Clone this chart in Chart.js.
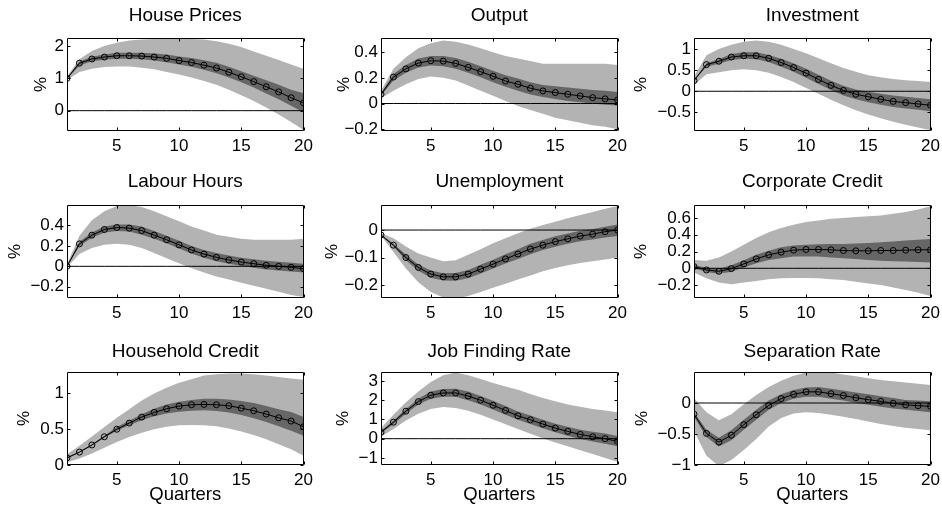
<!DOCTYPE html>
<html><head><meta charset="utf-8">
<script src="https://cdn.jsdelivr.net/npm/chart.js@4.4.1/dist/chart.umd.min.js"></script>
<style>
html,body{margin:0;padding:0;background:#fff;width:942px;height:509px;overflow:hidden;position:relative;}
canvas{position:absolute;}
</style></head><body>
<script>
// ---------- data ----------
const quarters = [1,2,3,4,5,6,7,8,9,10,11,12,13,14,15,16,17,18,19,20];
const xTickValues = [5,10,15,20];
const panelTitles = ["House Prices","Output","Investment","Labour Hours","Unemployment","Corporate Credit","Household Credit","Job Finding Rate","Separation Rate"];
const xAxisLabel = "Quarters";
const yAxisLabel = "%";

const housePricesMedian  = [1.00,1.47,1.60,1.66,1.70,1.70,1.69,1.66,1.62,1.55,1.49,1.41,1.32,1.19,1.05,0.90,0.74,0.58,0.40,0.24];
const housePricesDarkLo  = [0.98,1.40,1.53,1.58,1.61,1.61,1.59,1.55,1.50,1.43,1.36,1.27,1.16,1.03,0.88,0.72,0.53,0.35,0.15,-0.06];
const housePricesDarkHi  = [1.02,1.52,1.67,1.74,1.79,1.79,1.79,1.77,1.74,1.68,1.63,1.56,1.48,1.36,1.22,1.08,0.94,0.80,0.65,0.54];
const housePricesLightLo = [0.95,1.20,1.30,1.35,1.37,1.37,1.33,1.28,1.20,1.12,1.03,0.92,0.80,0.65,0.48,0.30,0.10,-0.12,-0.35,-0.60];
const housePricesLightHi = [1.05,1.60,1.85,2.00,2.10,2.17,2.20,2.22,2.23,2.23,2.22,2.20,2.15,2.07,1.97,1.83,1.70,1.57,1.43,1.30];
const housePricesYTicks  = [0,1,2];
const housePricesYRange  = [-0.63,2.25];

const outputMedian  = [0.072,0.206,0.27,0.315,0.333,0.33,0.312,0.281,0.248,0.212,0.175,0.15,0.119,0.098,0.085,0.072,0.059,0.046,0.036,0.028];
const outputDarkLo  = [0.06,0.18,0.24,0.28,0.295,0.29,0.27,0.24,0.205,0.165,0.13,0.10,0.07,0.05,0.035,0.02,0.01,0.0,-0.01,-0.015];
const outputDarkHi  = [0.08,0.23,0.30,0.35,0.37,0.37,0.355,0.325,0.29,0.255,0.22,0.195,0.165,0.145,0.135,0.125,0.115,0.105,0.10,0.09];
const outputLightLo = [0.04,0.10,0.15,0.19,0.21,0.20,0.18,0.14,0.10,0.06,0.02,-0.02,-0.05,-0.08,-0.11,-0.13,-0.15,-0.17,-0.18,-0.20];
const outputLightHi = [0.10,0.27,0.36,0.43,0.47,0.49,0.48,0.46,0.43,0.40,0.37,0.35,0.33,0.31,0.31,0.31,0.31,0.31,0.31,0.30];
const outputYTicks  = [-0.2,0,0.2,0.4];
const outputYRange  = [-0.214,0.51];

const investmentMedian  = [0.25,0.63,0.71,0.81,0.84,0.84,0.78,0.68,0.56,0.43,0.28,0.14,0.02,-0.07,-0.13,-0.19,-0.24,-0.27,-0.30,-0.33];
const investmentDarkLo  = [0.24,0.58,0.65,0.74,0.77,0.76,0.69,0.58,0.46,0.32,0.17,0.03,-0.10,-0.19,-0.26,-0.32,-0.37,-0.41,-0.44,-0.47];
const investmentDarkHi  = [0.27,0.66,0.76,0.88,0.92,0.92,0.86,0.77,0.66,0.53,0.39,0.25,0.13,0.04,-0.01,-0.06,-0.10,-0.13,-0.16,-0.19];
const investmentLightLo = [0.15,0.40,0.45,0.50,0.52,0.50,0.44,0.34,0.22,0.08,-0.06,-0.20,-0.33,-0.45,-0.55,-0.64,-0.72,-0.79,-0.86,-0.92];
const investmentLightHi = [0.35,0.85,1.00,1.10,1.17,1.20,1.17,1.10,1.00,0.90,0.78,0.66,0.55,0.46,0.38,0.33,0.29,0.26,0.24,0.22];
const investmentYTicks  = [-0.5,0,0.5,1];
const investmentYRange  = [-0.94,1.26];

const labourMedian  = [0.0,0.22,0.305,0.36,0.38,0.373,0.35,0.305,0.26,0.21,0.16,0.12,0.088,0.062,0.042,0.026,0.01,0.0,-0.01,-0.023];
const labourDarkLo  = [-0.005,0.20,0.28,0.33,0.345,0.34,0.31,0.27,0.225,0.175,0.125,0.085,0.05,0.025,0.005,-0.015,-0.03,-0.04,-0.05,-0.06];
const labourDarkHi  = [0.01,0.24,0.33,0.39,0.41,0.41,0.39,0.345,0.30,0.25,0.20,0.16,0.13,0.105,0.085,0.07,0.055,0.045,0.035,0.025];
const labourLightLo = [-0.01,0.12,0.18,0.21,0.22,0.21,0.18,0.13,0.08,0.03,-0.02,-0.06,-0.10,-0.13,-0.16,-0.19,-0.22,-0.25,-0.28,-0.30];
const labourLightHi = [0.02,0.30,0.45,0.54,0.59,0.60,0.58,0.54,0.49,0.44,0.39,0.35,0.31,0.29,0.27,0.26,0.26,0.26,0.26,0.27];
const labourYTicks  = [-0.2,0,0.2,0.4];
const labourYRange  = [-0.31,0.60];

const unemploymentMedian  = [-0.018,-0.055,-0.10,-0.136,-0.16,-0.17,-0.17,-0.16,-0.142,-0.124,-0.105,-0.087,-0.069,-0.055,-0.042,-0.032,-0.022,-0.015,-0.006,0.0];
const unemploymentDarkLo  = [-0.02,-0.06,-0.11,-0.148,-0.173,-0.183,-0.184,-0.175,-0.158,-0.14,-0.122,-0.105,-0.088,-0.073,-0.061,-0.05,-0.041,-0.034,-0.027,-0.022];
const unemploymentDarkHi  = [-0.016,-0.05,-0.09,-0.125,-0.147,-0.157,-0.156,-0.145,-0.126,-0.108,-0.088,-0.07,-0.05,-0.036,-0.023,-0.013,-0.003,0.004,0.012,0.02];
const unemploymentLightLo = [-0.02,-0.08,-0.14,-0.19,-0.225,-0.245,-0.25,-0.24,-0.225,-0.21,-0.195,-0.18,-0.165,-0.15,-0.138,-0.128,-0.12,-0.113,-0.107,-0.10];
const unemploymentLightHi = [-0.012,-0.03,-0.06,-0.085,-0.10,-0.113,-0.11,-0.09,-0.07,-0.048,-0.03,-0.012,0.005,0.018,0.03,0.043,0.055,0.066,0.077,0.087];
const unemploymentYTicks  = [-0.2,-0.1,0];
const unemploymentYRange  = [-0.247,0.091];

const corporateMedian  = [0.02,-0.02,-0.036,-0.004,0.052,0.112,0.16,0.192,0.216,0.224,0.224,0.22,0.212,0.208,0.208,0.212,0.212,0.216,0.22,0.22];
const corporateDarkLo  = [0.0,-0.045,-0.065,-0.04,0.01,0.06,0.10,0.12,0.14,0.14,0.14,0.13,0.12,0.11,0.10,0.09,0.085,0.08,0.075,0.07];
const corporateDarkHi  = [0.04,0.005,-0.005,0.035,0.095,0.16,0.21,0.25,0.27,0.28,0.285,0.29,0.29,0.295,0.30,0.31,0.32,0.33,0.34,0.35];
const corporateLightLo = [-0.05,-0.12,-0.17,-0.19,-0.17,-0.15,-0.13,-0.12,-0.115,-0.115,-0.12,-0.13,-0.14,-0.16,-0.18,-0.20,-0.23,-0.26,-0.29,-0.33];
const corporateLightHi = [0.10,0.09,0.13,0.20,0.28,0.36,0.43,0.48,0.52,0.55,0.57,0.59,0.60,0.61,0.62,0.63,0.65,0.67,0.70,0.74];
const corporateYTicks  = [-0.2,0,0.2,0.4,0.6];
const corporateYRange  = [-0.354,0.754];

const householdMedian  = [0.10,0.18,0.28,0.395,0.50,0.586,0.67,0.735,0.786,0.823,0.842,0.847,0.842,0.828,0.795,0.758,0.712,0.66,0.614,0.535];
const householdDarkLo  = [0.09,0.17,0.27,0.38,0.48,0.555,0.625,0.68,0.72,0.745,0.76,0.765,0.755,0.735,0.70,0.655,0.60,0.54,0.48,0.41];
const householdDarkHi  = [0.11,0.19,0.29,0.41,0.53,0.62,0.71,0.785,0.845,0.885,0.91,0.925,0.925,0.915,0.895,0.865,0.825,0.78,0.74,0.67];
const householdLightLo = [0.04,0.09,0.16,0.24,0.32,0.39,0.45,0.50,0.535,0.555,0.56,0.555,0.54,0.51,0.47,0.42,0.36,0.29,0.22,0.13];
const householdLightHi = [0.15,0.27,0.40,0.53,0.66,0.78,0.90,1.00,1.08,1.15,1.20,1.25,1.27,1.28,1.28,1.27,1.25,1.23,1.21,1.19];
const householdYTicks  = [0,0.5,1];
const householdYRange  = [0,1.30];

const jobFindingMedian  = [0.34,0.86,1.43,1.93,2.26,2.38,2.38,2.22,2.0,1.74,1.47,1.19,0.98,0.76,0.55,0.38,0.22,0.10,0.0,-0.14];
const jobFindingDarkLo  = [0.28,0.75,1.30,1.78,2.08,2.18,2.18,2.0,1.78,1.52,1.25,0.98,0.76,0.54,0.33,0.15,-0.02,-0.15,-0.26,-0.40];
const jobFindingDarkHi  = [0.40,0.95,1.55,2.08,2.45,2.58,2.60,2.45,2.22,1.97,1.70,1.42,1.21,0.99,0.78,0.62,0.47,0.36,0.27,0.14];
const jobFindingLightLo = [0.10,0.50,0.95,1.30,1.55,1.65,1.60,1.45,1.25,1.00,0.75,0.50,0.25,0.02,-0.20,-0.40,-0.60,-0.80,-1.00,-1.20];
const jobFindingLightHi = [0.55,1.25,1.90,2.45,2.95,3.30,3.45,3.30,3.10,2.90,2.72,2.55,2.33,2.12,1.95,1.78,1.66,1.55,1.46,1.38];
const jobFindingYTicks  = [-1,0,1,2,3];
const jobFindingYRange  = [-1.37,3.47];

const separationMedian  = [-0.18,-0.49,-0.63,-0.52,-0.35,-0.19,-0.04,0.07,0.14,0.18,0.18,0.15,0.12,0.085,0.053,0.027,-0.005,-0.03,-0.043,-0.053];
const separationDarkLo  = [-0.22,-0.55,-0.70,-0.60,-0.43,-0.27,-0.11,0.0,0.07,0.10,0.10,0.07,0.04,0.0,-0.03,-0.06,-0.09,-0.11,-0.13,-0.15];
const separationDarkHi  = [-0.15,-0.43,-0.56,-0.44,-0.27,-0.11,0.04,0.14,0.21,0.25,0.26,0.23,0.20,0.17,0.14,0.11,0.08,0.05,0.04,0.03];
const separationLightLo = [-0.45,-0.85,-1.02,-0.92,-0.76,-0.58,-0.38,-0.24,-0.17,-0.15,-0.16,-0.19,-0.22,-0.26,-0.30,-0.34,-0.37,-0.40,-0.42,-0.44];
const separationLightHi = [0.08,-0.15,-0.28,-0.18,-0.02,0.13,0.26,0.36,0.44,0.49,0.50,0.49,0.46,0.43,0.40,0.37,0.35,0.33,0.31,0.29];
const separationYTicks  = [-1,-0.5,0];
const separationYRange  = [-1.0,0.5];

// ---------- layout / style ----------
const colLeft = [67,381,694];
const rowTop = [38,205,372];
const boxW = 237, boxH = 93;
const yAxisW = 67, xAxisH = 44, rightPad = 14, topArea = 38;
const yLabelGap = [26,37,53,52,49,53,43,38,52];
const titleGap = [22.5,23,20.5];
const FONT = "'Liberation Sans', Arial, Helvetica, sans-serif";
const LIGHT = '#b3b3b3', DARK = '#666666';

const panels = [
  [housePricesMedian,housePricesDarkLo,housePricesDarkHi,housePricesLightLo,housePricesLightHi,housePricesYTicks,housePricesYRange],
  [outputMedian,outputDarkLo,outputDarkHi,outputLightLo,outputLightHi,outputYTicks,outputYRange],
  [investmentMedian,investmentDarkLo,investmentDarkHi,investmentLightLo,investmentLightHi,investmentYTicks,investmentYRange],
  [labourMedian,labourDarkLo,labourDarkHi,labourLightLo,labourLightHi,labourYTicks,labourYRange],
  [unemploymentMedian,unemploymentDarkLo,unemploymentDarkHi,unemploymentLightLo,unemploymentLightHi,unemploymentYTicks,unemploymentYRange],
  [corporateMedian,corporateDarkLo,corporateDarkHi,corporateLightLo,corporateLightHi,corporateYTicks,corporateYRange],
  [householdMedian,householdDarkLo,householdDarkHi,householdLightLo,householdLightHi,householdYTicks,householdYRange],
  [jobFindingMedian,jobFindingDarkLo,jobFindingDarkHi,jobFindingLightLo,jobFindingLightHi,jobFindingYTicks,jobFindingYRange],
  [separationMedian,separationDarkLo,separationDarkHi,separationLightLo,separationLightHi,separationYTicks,separationYRange]
];

const pts = arr => quarters.map((q,i) => ({x:q, y:arr[i]}));
const fmt = v => String(v).replace('-', '\u2212');

const boxPlugin = {
  id: 'matlabBox',
  afterDatasetsDraw(chart) {
    const {ctx, chartArea: a, scales: {x, y}} = chart;
    const l = Math.round(a.left) + 0.5, r = Math.round(a.right) - 0.5;
    const t = Math.round(a.top) + 0.5, b = Math.round(a.bottom) - 0.5;
    const tl = 3;
    ctx.save();
    ctx.strokeStyle = '#000';
    ctx.lineWidth = 1;
    ctx.beginPath();
    ctx.rect(l, t, r - l, b - t);
    x.ticks.forEach(tk => {
      const px = Math.round(x.getPixelForValue(tk.value)) + 0.5;
      ctx.moveTo(px, b); ctx.lineTo(px, b - tl);
      ctx.moveTo(px, t); ctx.lineTo(px, t + tl);
    });
    y.ticks.forEach(tk => {
      const py = Math.round(y.getPixelForValue(tk.value)) + 0.5;
      ctx.moveTo(l, py); ctx.lineTo(l + tl, py);
      ctx.moveTo(r, py); ctx.lineTo(r - tl, py);
    });
    ctx.stroke();
    ctx.restore();
  }
};

panels.forEach((p, i) => {
  const [median, dLo, dHi, lLo, lHi, yTicks, yRange] = p;
  const col = i % 3, row = Math.floor(i / 3);
  const cv = document.createElement('canvas');
  const W = yAxisW + boxW + rightPad, H = topArea + boxH + xAxisH;
  cv.width = W; cv.height = H;
  cv.style.left = (colLeft[col] - yAxisW) + 'px';
  cv.style.top = (rowTop[row] - topArea) + 'px';
  cv.style.width = W + 'px'; cv.style.height = H + 'px';
  document.body.appendChild(cv);

  const titleSize = 19;
  const tPadTop = topArea - titleGap[row] - titleSize * 1.2 / 2;
  const tPadBottom = topArea - tPadTop - titleSize * 1.2;

  new Chart(cv, {
    type: 'line',
    data: {
      datasets: [
        {data: pts(median), borderColor: '#000', borderWidth: 1, pointRadius: 3, pointBorderWidth: 1,
         pointBorderColor: '#000', pointBackgroundColor: 'rgba(0,0,0,0)', fill: false, tension: 0, order: 0},
        {data: pts(quarters.map(() => 0)), borderColor: '#000', borderWidth: 1, pointRadius: 0, fill: false, order: 1},
        {data: pts(dHi), borderWidth: 0, borderColor: 'rgba(0,0,0,0)', pointRadius: 0, backgroundColor: DARK, fill: '+1', order: 2},
        {data: pts(dLo), borderWidth: 0, borderColor: 'rgba(0,0,0,0)', pointRadius: 0, fill: false, order: 2},
        {data: pts(lHi), borderWidth: 0, borderColor: 'rgba(0,0,0,0)', pointRadius: 0, backgroundColor: LIGHT, fill: '+1', order: 3},
        {data: pts(lLo), borderWidth: 0, borderColor: 'rgba(0,0,0,0)', pointRadius: 0, fill: false, order: 3}
      ]
    },
    options: {
      responsive: false, animation: false, devicePixelRatio: 1,
      layout: {padding: {left: 0, right: rightPad, top: 0, bottom: 0}},
      plugins: {
        legend: {display: false}, tooltip: {enabled: false},
        title: {display: true, fullSize: false, text: panelTitles[i], color: '#000',
                font: {family: FONT, size: titleSize, weight: 'normal', lineHeight: 1.2},
                padding: {top: tPadTop, bottom: tPadBottom}}
      },
      scales: {
        x: {
          type: 'linear', min: 1, max: 20,
          grid: {display: false, drawTicks: false}, border: {display: false},
          afterBuildTicks: s => { s.ticks = xTickValues.map(v => ({value: v})); },
          afterFit: s => { s.height = xAxisH; },
          ticks: {color: '#000', padding: 5, maxRotation: 0, autoSkip: false,
                  font: {family: FONT, size: 17, lineHeight: 1.2}, callback: v => fmt(v)},
          title: {display: row === 2, text: xAxisLabel, color: '#000',
                  font: {family: FONT, size: 18.5, lineHeight: 1.2}, padding: {top: 0, bottom: 3.4}}
        },
        y: {
          min: yRange[0], max: yRange[1],
          grid: {display: false, drawTicks: false}, border: {display: false},
          afterBuildTicks: s => { s.ticks = yTicks.map(v => ({value: v})); },
          afterFit: s => { s.width = yAxisW; },
          ticks: {color: '#000', padding: 3, autoSkip: false,
                  font: {family: FONT, size: 17, lineHeight: 1.2}, callback: v => fmt(v)},
          title: {display: true, text: yAxisLabel, color: '#000',
                  font: {family: FONT, size: 17, lineHeight: 1.2},
                  padding: {top: yAxisW - yLabelGap[i] - 10.2, bottom: 0}}
        }
      }
    },
    plugins: [boxPlugin]
  });
});
</script>
</body></html>
